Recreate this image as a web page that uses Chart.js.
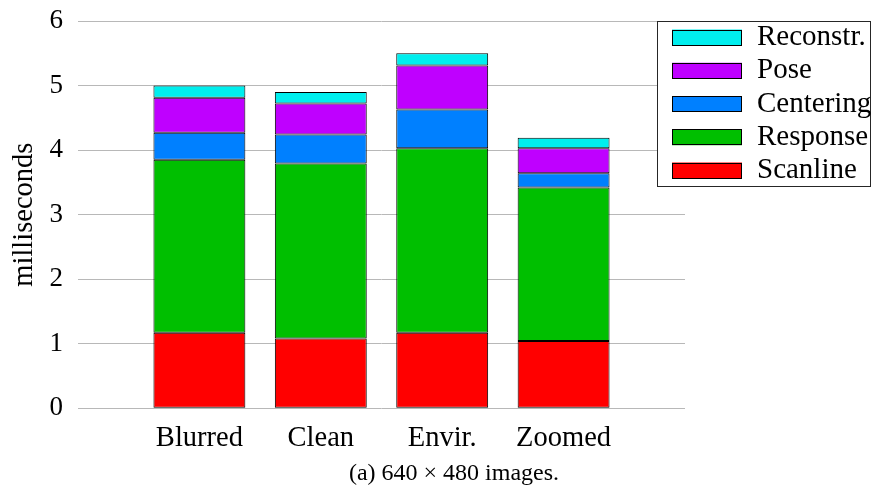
<!DOCTYPE html>
<html>
<head>
<meta charset="utf-8">
<script src="https://cdn.jsdelivr.net/npm/chart.js@4/dist/chart.umd.min.js"></script>
<style>
  html, body { margin: 0; padding: 0; background: #fff; }
  #wrap { width: 880px; height: 491px; }
</style>
</head>
<body>
<div id="wrap"><canvas id="c" width="880" height="491"></canvas></div>
<script>
// Timing breakdown per test sequence (milliseconds), stacked bottom to top.
const categories = ['Blurred', 'Clean', 'Envir.', 'Zoomed'];
const scanline  = [1.17, 1.08, 1.17, 1.04];
const response  = [2.68, 2.71, 2.86, 2.38];
const centering = [0.42, 0.45, 0.60, 0.22];
const pose      = [0.54, 0.48, 0.68, 0.39];
const reconstr  = [0.19, 0.18, 0.19, 0.16];
const yTicks = [0, 1, 2, 3, 4, 5, 6];
const yTitle = 'milliseconds';
const caption = '(a) 640 \u00d7 480 images.';

const SERIF = "'Liberation Serif', 'DejaVu Serif', serif";

// One empty slot on each side so the bars sit inside a wider x range.
const labels = ['', ...categories, ''];
const pad = arr => [null, ...arr, null];

const series = [
  { label: 'Scanline',   values: scanline,  color: '#ff0000' },
  { label: 'Response',   values: response,  color: '#00bf00' },
  { label: 'Centering',  values: centering, color: '#0080ff' },
  { label: 'Pose',       values: pose,      color: '#bf00ff' },
  { label: 'Reconstr.',  values: reconstr,  color: '#00eeee' }
];

// Framed legend drawn over the top-right corner of the plot.
const legendBox = {
  id: 'legendBox',
  afterDraw(chart, args, o) {
    const ctx = chart.ctx;
    const items = chart.data.datasets.slice().reverse();
    ctx.save();
    ctx.fillStyle = '#fff';
    ctx.fillRect(o.x, o.y, o.w, o.h);
    ctx.strokeStyle = '#262626';
    ctx.lineWidth = 1;
    ctx.strokeRect(o.x + 0.5, o.y + 0.5, o.w, o.h);
    ctx.font = o.fontSize + 'px ' + SERIF;
    ctx.textAlign = 'left';
    ctx.textBaseline = 'alphabetic';
    items.forEach((ds, i) => {
      const cy = o.y + o.firstRow + i * o.rowGap;
      const sx = o.x + o.swatchLeft;
      ctx.fillStyle = ds.backgroundColor;
      ctx.fillRect(sx, cy - o.swatchH / 2, o.swatchW, o.swatchH);
      ctx.strokeStyle = '#000';
      ctx.strokeRect(sx + 0.5, Math.round(cy - o.swatchH / 2) + 0.5, o.swatchW - 1, o.swatchH - 1);
      ctx.fillStyle = '#000';
      ctx.fillText(ds.label, o.x + o.textLeft, cy + o.textDrop);
    });
    ctx.restore();
  }
};

new Chart(document.getElementById('c'), {
  type: 'bar',
  data: {
    labels: labels,
    datasets: series.map(s => ({
      label: s.label,
      data: pad(s.values),
      backgroundColor: s.color,
      borderColor: '#000',
      borderWidth: 1,
      borderSkipped: false,
      inflateAmount: 0,
      categoryPercentage: 1,
      barPercentage: 0.757
    }))
  },
  options: {
    responsive: false,
    animation: false,
    devicePixelRatio: 1,
    layout: { padding: { left: 28, right: 0, top: 21, bottom: 0 } },
    plugins: {
      legend: { display: false },
      tooltip: { enabled: false },
      title: {
        display: true,
        position: 'bottom',
        text: caption,
        color: '#000',
        font: { family: SERIF, size: 24, weight: 'normal' },
        padding: { top: 6, bottom: 3 }
      },
      legendBox: {
        x: 657, y: 21, w: 213, h: 165,
        firstRow: 16.5, rowGap: 33.25,
        swatchLeft: 15, swatchW: 70, swatchH: 16,
        textLeft: 100, textDrop: 7.5, fontSize: 29
      }
    },
    scales: {
      x: {
        type: 'category',
        stacked: true,
        offset: false,
        grid: { display: false, drawTicks: false },
        border: { display: false },
        ticks: {
          color: '#000',
          font: { family: SERIF, size: 28.5 },
          padding: 13,
          autoSkip: false,
          maxRotation: 0
        },
        afterFit: s => { s.height = 45; }
      },
      y: {
        stacked: true,
        min: yTicks[0],
        max: yTicks[yTicks.length - 1],
        grid: { color: '#b8b8b8', lineWidth: 1, drawTicks: false },
        border: { display: false },
        ticks: {
          stepSize: 1,
          color: '#000',
          font: { family: SERIF, size: 27 },
          padding: 15
        },
        title: {
          display: true,
          text: yTitle,
          color: '#000',
          font: { family: SERIF, size: 28.5 },
          padding: { top: -21, bottom: 0 }
        },
        afterFit: s => {
          s.width = 50;
          // top/bottom tick labels may overhang the plot slightly
          s.paddingTop = 8;
          s.paddingBottom = 8;
        }
      },
      // Reserves the strip on the right where the legend frame sits.
      yRight: {
        position: 'right',
        display: true,
        grid: { display: false },
        border: { display: false },
        ticks: { display: false },
        afterFit: s => { s.width = 195; }
      }
    }
  },
  plugins: [legendBox]
});
</script>
</body>
</html>
